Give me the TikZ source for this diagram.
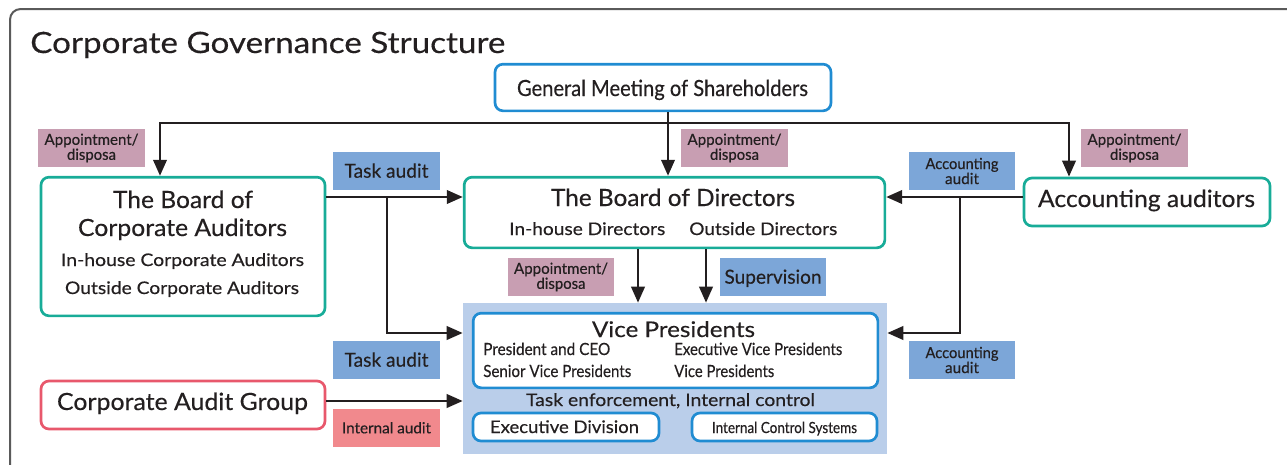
\documentclass[tikz,border=0pt]{standalone}
\usepackage{graphicx}
\usepackage{fontspec}
\setmainfont{Lato}[FakeBold=0.35]
\usetikzlibrary{arrows.meta}
\definecolor{txtc}{RGB}{35,31,32}
\definecolor{tealc}{RGB}{24,172,152}
\definecolor{bluec}{RGB}{32,140,210}
\definecolor{redc}{RGB}{232,88,108}
\definecolor{pinkc}{RGB}{200,158,178}
\definecolor{lbluec}{RGB}{124,166,216}
\definecolor{lredc}{RGB}{241,137,141}
\definecolor{panelc}{RGB}{186,206,234}
\definecolor{framec}{RGB}{90,90,90}
\newsavebox\fxbox
\newdimen\fxd
\newcommand\fx[2]{\sbox\fxbox{#2}\fxd=\wd\fxbox\pgfmathsetmacro\fxr{#1*0.75/\fxd}\scalebox{\fxr}[1]{\usebox\fxbox}}
\newcommand\fsz[1]{\fontsize{#1}{#1}\selectfont}
\tikzset{
  box/.style={draw, line width=2pt, rounded corners=6pt, fill=white, inner sep=0pt},
  tealbox/.style={box, draw=tealc},
  bluebox/.style={box, draw=bluec},
  redbox/.style={box, draw=redc},
  txt/.style={inner sep=0pt, text=txtc},
  lab/.style={inner sep=0pt, text=txtc, minimum width=80pt, minimum height=28.5pt, align=center},
  lab2/.style={lab, font=\fontsize{11.5}{11.25}\selectfont},
  lab1/.style={lab, text height=10pt, text depth=0pt, font=\fsz{14.5}},
  conn/.style={draw=txtc, line width=2pt},
  arr/.style={conn, -{Triangle[length=12pt,width=10pt]}},
}
\begin{document}
\begin{tikzpicture}[x=0.75pt,y=-0.75pt]
\useasboundingbox (0,0) rectangle (1287,464);
\draw[draw=framec, line width=1.5pt, rounded corners=8pt] (1300,9) -- (10,9) -- (10,480);

% title
\node[txt, anchor=base west, font=\fsz{22}] (title) at (30,53) {\fx{475}{Corporate Governance Structure}};

% boxes
\node[bluebox, minimum width=252pt, minimum height=35pt] (gm) at (663,87.5) {};
\node[tealbox, minimum width=213pt, minimum height=104pt] (bca) at (183,246.5) {};
\node[tealbox, minimum width=315.5pt, minimum height=53pt] (bod) at (674.5,212.5) {};
\node[tealbox, minimum width=184.5pt, minimum height=36pt] (aa) at (1147,202) {};
\node[fill=panelc, minimum width=318pt, minimum height=113.25pt, inner sep=0pt] (panel) at (675,378.5) {};
\node[bluebox, minimum width=303.5pt, minimum height=56pt] (vp) at (675.5,350.5) {};
\node[bluebox, minimum width=139.5pt, minimum height=21pt] (ed) at (566,427) {};
\node[bluebox, minimum width=138.75pt, minimum height=21pt] (ics) at (784.5,427) {};
\node[redbox, minimum width=213pt, minimum height=36pt] (cag) at (183,405) {};

% box texts
\node[txt, anchor=base, font=\fsz{16.7}] (tgm) at (662.5,96) {\fx{291}{General Meeting of Shareholders}};
\node[txt, anchor=base, font=\fsz{17.8}] (tbca1) at (183,208) {\fx{140}{The Board of}};
\node[txt, anchor=base, font=\fsz{17.8}] (tbca2) at (182.5,236) {\fx{209}{Corporate Auditors}};
\node[txt, anchor=base, font=\fsz{13}] (tbca3) at (182.5,266) {\fx{243}{In-house Corporate Auditors}};
\node[txt, anchor=base, font=\fsz{13}] (tbca4) at (182,294) {\fx{234}{Outside Corporate Auditors}};
\node[txt, anchor=base, font=\fsz{17.8}] (tbod1) at (673,206) {\fx{244}{The Board of Directors}};
\node[txt, anchor=base west, font=\fsz{13}] (tbod2) at (509,235) {\fx{156}{In-house Directors}};
\node[txt, anchor=base west, font=\fsz{13}] (tbod3) at (689,235) {\fx{148}{Outside Directors}};
\node[txt, anchor=base, font=\fsz{17.8}] (taa) at (1146.5,207) {\fx{217}{Accounting auditors}};
\node[txt, anchor=base, font=\fsz{16.2}] (tvp) at (673.5,337) {\fx{163}{Vice Presidents}};
\node[txt, anchor=base west, font=\fsz{12.6}] (tvp1) at (483,355) {\fx{127}{President and CEO}};
\node[txt, anchor=base west, font=\fsz{12.6}] (tvp2) at (674,355) {\fx{168}{Executive Vice Presidents}};
\node[txt, anchor=base west, font=\fsz{12.6}] (tvp3) at (483,377) {\fx{148}{Senior Vice Presidents}};
\node[txt, anchor=base west, font=\fsz{12.6}] (tvp4) at (674,377) {\fx{100}{Vice Presidents}};
\node[txt, anchor=base, font=\fsz{13}] (tte) at (670.5,406) {\fx{289}{Task enforcement, Internal control}};
\node[txt, anchor=base, font=\fsz{13}] (ted) at (564.5,433) {\fx{149}{Executive Division}};
\node[txt, anchor=base, font=\fsz{11.5}] (tics) at (784.5,433) {\fx{145}{Internal Control Systems}};
\node[txt, anchor=base, font=\fsz{17.8}] (tcag) at (182.5,410) {\fx{251}{Corporate Audit Group}};

% labels
\node[lab2, fill=pinkc] (l1) at (91.5,148) {\fx{94}{Appointment/}\\\fx{49}{disposa}};
\node[lab2, fill=pinkc] (l2) at (734.5,148) {\fx{94}{Appointment/}\\\fx{49}{disposa}};
\node[lab2, fill=pinkc] (l3) at (1134.5,148) {\fx{94}{Appointment/}\\\fx{49}{disposa}};
\node[lab2, fill=pinkc] (l4) at (561,277) {\fx{94}{Appointment/}\\\fx{49}{disposa}};
\node[lab1, fill=lbluec] (l5) at (386.5,171) {\fx{84}{Task audit}};
\node[lab1, fill=lbluec] (l6) at (386.5,360) {\fx{84}{Task audit}};
\node[lab1, fill=lbluec] (l7) at (773,277) {\fx{97}{Supervision}};
\node[lab1, fill=lredc, text height=8pt, font=\fsz{11.5}] (l8) at (386.5,428) {\fx{89}{Internal audit}};
\node[lab2, fill=lbluec] (l9) at (962,171) {\fx{73}{Accounting}\\\fx{34}{audit}};
\node[lab2, fill=lbluec] (l10) at (962,360) {\fx{73}{Accounting}\\\fx{34}{audit}};

% connectors
\coordinate (jl) at (160,123);
\coordinate (jr) at (1069,123);
\coordinate (jm) at (668,123);
\coordinate (ya) at (0,197);
\coordinate (yb) at (0,333);
\coordinate (ycag) at (0,401);
\coordinate (bl) at (387,197);
\coordinate (br) at (960,197);
\coordinate (d1) at (638,0);
\coordinate (d2) at (706,0);
\draw[conn, {Triangle[length=12pt,width=10pt]}-{Triangle[length=12pt,width=10pt]}] (jl |- bca.north) -- (jl) -- (jr) -- (jr |- aa.north);
\draw[arr] (gm.south -| jm) -- (bod.north -| jm);
\draw[arr] (bca.east |- ya) -- (bod.west |- ya);
\draw[arr] (bl) |- (panel.west |- yb);
\draw[arr] (aa.west |- ya) -- (bod.east |- ya);
\draw[arr] (br) |- (panel.east |- yb);
\draw[arr] (bod.south -| d1) -- (panel.north -| d1);
\draw[arr] (bod.south -| d2) -- (panel.north -| d2);
\draw[arr] (cag.east |- ycag) -- (panel.west |- ycag);
\end{tikzpicture}
\end{document}
